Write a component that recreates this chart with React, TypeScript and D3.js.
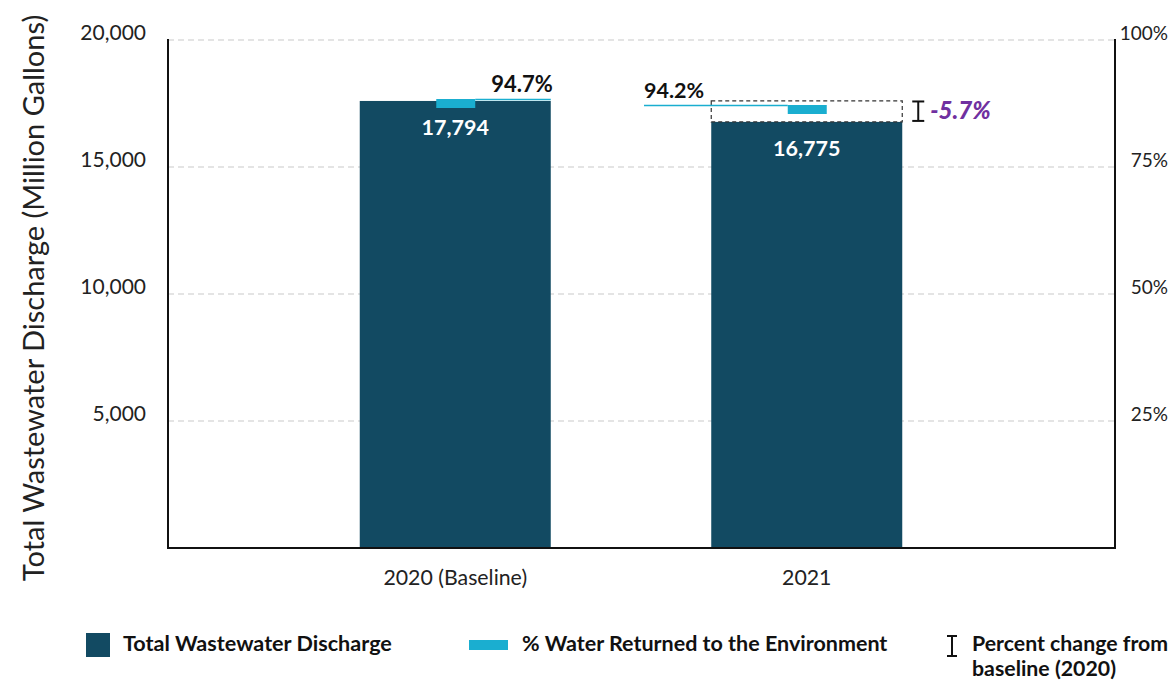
import React from "react";
import * as d3 from "d3";

const categories = ["2020 (Baseline)", "2021"];
const discharge = [17600, 16775];
const dischargeLabels = ["17,794", "16,775"];
const pctReturned = [94.7, 94.2];
const pctLabels = ["94.7%", "94.2%"];
const baselineValue = 17600;
const changeLabel = "-5.7%";
const leftTicks = [5000, 10000, 15000, 20000];
const rightTicks = [25, 50, 75, 100];

const W = 1175;
const H = 683;
const FONT = "Lato, 'Open Sans', sans-serif";
const DARK = "#124a62";
const LIGHT = "#1aaed0";

export default function App() {
  const left = 168, right = 1115, top = 40, bottom = 548;
  const y = d3.scaleLinear().domain([0, 20000]).range([bottom, top]);
  const yPct = d3.scaleLinear().domain([0, 100]).range([bottom, top]);
  // marker scale used in original chart for the % markers
  const yMark = d3.scaleLinear().domain([94.2, 94.7]).range([109.5, 103.5]);
  const x = d3
    .scaleBand<string>()
    .domain(categories)
    .range([184, 1078])
    .paddingInner(0.4566)
    .paddingOuter(0.5);
  const bw = x.bandwidth();
  const fmt = d3.format(",");

  return (
    <svg width={W} height={H} style={{ position: "absolute", left: 0, top: 0 }} fontFamily={FONT}>
      <rect width={W} height={H} fill="#fff" />
      {/* gridlines */}
      {leftTicks.map((t) => (
        <line key={t} x1={left} x2={right} y1={y(t)} y2={y(t)} stroke="#c9c9c9" strokeWidth={1} strokeDasharray="6,4" />
      ))}
      {/* left tick labels */}
      {leftTicks.map((t) => (
        <text key={"l" + t} x={146} y={y(t) - 7} dy="0.35em" textAnchor="end" fontSize={21} fill="#222">
          {fmt(t)}
        </text>
      ))}
      {rightTicks.map((t) => (
        <text key={"r" + t} x={1168} y={yPct(t) - 7} dy="0.35em" textAnchor="end" fontSize={19} fill="#222">
          {t + "%"}
        </text>
      ))}
      {/* axis title */}
      <text
        transform={`translate(44,${298}) rotate(-90)`}
        textAnchor="middle"
        fontSize={29}
        fill="#222"
      >
        Total Wastewater Discharge (Million Gallons)
      </text>
      {/* bars */}
      {categories.map((c, i) => (
        <rect key={c} x={x(c)!} y={y(discharge[i])} width={bw} height={bottom - y(discharge[i])} fill={DARK} />
      ))}
      {/* baseline dashed box on 2021 */}
      <rect
        x={x(categories[1])!}
        y={y(baselineValue)}
        width={bw}
        height={y(discharge[1]) - y(baselineValue)}
        fill="none"
        stroke="#333"
        strokeWidth={1.2}
        strokeDasharray="4,3"
      />
      {/* bar labels */}
      {categories.map((c, i) => (
        <text
          key={"bl" + c}
          x={x(c)! + bw / 2}
          y={y(discharge[i]) + 34}
          textAnchor="middle"
          fontSize={21.5}
          fontWeight="bold"
          fill="#fff"
        >
          {dischargeLabels[i]}
        </text>
      ))}
      {/* % markers */}
      {categories.map((c, i) => {
        const cx = x(c)! + bw / 2;
        const my = yMark(pctReturned[i]);
        const mx0 = cx - 19;
        const mx1 = cx + 20;
        return (
          <g key={"m" + c}>
            {i === 0 ? (
              <>
                <line x1={mx1} x2={x(c)! + bw} y1={my - 4} y2={my - 4} stroke={LIGHT} strokeWidth={1.5} />
                <text x={x(c)! + bw + 2} y={my - 12} textAnchor="end" fontSize={22} fontWeight="bold" fill="#111">
                  {pctLabels[i]}
                </text>
              </>
            ) : (
              <>
                <line x1={644} x2={mx0} y1={my - 4} y2={my - 4} stroke={LIGHT} strokeWidth={1.5} />
                <text x={644} y={my - 12} textAnchor="start" fontSize={21.5} fontWeight="bold" fill="#111">
                  {pctLabels[i]}
                </text>
              </>
            )}
            <rect x={mx0} y={my - 4.5} width={mx1 - mx0} height={9} fill={LIGHT} />
          </g>
        );
      })}
      {/* change I-beam */}
      {(() => {
        const bx = x(categories[1])! + bw + 16;
        const y0 = y(baselineValue) + 0.5;
        const y1 = y(discharge[1]) - 1;
        return (
          <g stroke="#111" strokeWidth={2}>
            <line x1={bx} x2={bx} y1={y0} y2={y1} />
            <line x1={bx - 6} x2={bx + 6} y1={y0} y2={y0} />
            <line x1={bx - 6} x2={bx + 6} y1={y1} y2={y1} />
          </g>
        );
      })()}
      <text
        x={x(categories[1])! + bw + 28}
        y={119}
        fontSize={24}
        fontWeight={900}
        fontStyle="italic"
        fill="#7030a0"
      >
        {changeLabel}
      </text>
      {/* axes */}
      <line x1={left} x2={left} y1={top - 1} y2={bottom + 1} stroke="#111" strokeWidth={2} />
      <line x1={right} x2={right} y1={top - 1} y2={bottom + 1} stroke="#111" strokeWidth={2} />
      <line x1={left - 1} x2={right + 1} y1={bottom} y2={bottom} stroke="#111" strokeWidth={2} />
      {/* category labels */}
      {categories.map((c) => (
        <text key={"c" + c} x={x(c)! + bw / 2} y={585} textAnchor="middle" fontSize={21.3} fill="#222">
          {c}
        </text>
      ))}
      {/* legend */}
      <rect x={86} y={633} width={24} height={24} fill={DARK} />
      <text x={123} y={651} fontSize={21.6} fontWeight="bold" fill="#111">
        Total Wastewater Discharge
      </text>
      <rect x={469} y={640} width={39} height={10} fill={LIGHT} />
      <text x={522} y={651} fontSize={21.5} fontWeight="bold" fill="#111">
        % Water Returned to the Environment
      </text>
      <g stroke="#111" strokeWidth={2}>
        <line x1={952} x2={952} y1={636} y2={656} />
        <line x1={947} x2={957} y1={636} y2={636} />
        <line x1={947} x2={957} y1={656} y2={656} />
      </g>
      <text x={972} y={651} fontSize={21.3} fontWeight="bold" fill="#111">
        Percent change from
      </text>
      <text x={972} y={676} fontSize={21.3} fontWeight="bold" fill="#111">
        baseline (2020)
      </text>
    </svg>
  );
}
